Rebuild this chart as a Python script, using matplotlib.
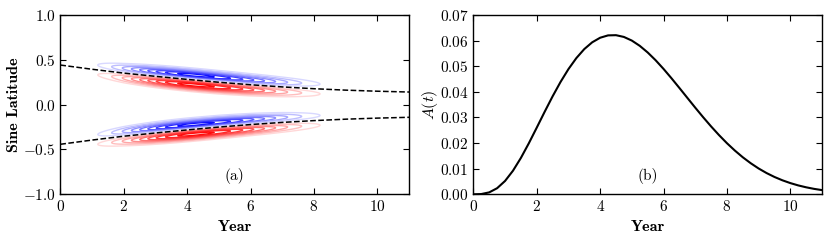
import matplotlib
matplotlib.use("Agg")
import matplotlib.pyplot as plt
import numpy as np

plt.rcParams['font.family'] = 'serif'
plt.rcParams['font.serif'] = ['cmr10']
plt.rcParams['mathtext.fontset'] = 'cm'
plt.rcParams['axes.formatter.use_mathtext'] = True
plt.rcParams['axes.unicode_minus'] = True

t_years = np.arange(0, 11.01, 0.25)
A_vals = [0.0000, 0.0001, 0.00075, 0.00238, 0.00520, 0.00920, 0.01420, 0.01991,
          0.02602, 0.03222, 0.03824, 0.04385, 0.04888, 0.05319, 0.05670, 0.05935,
          0.06113, 0.06205, 0.06213, 0.06144, 0.06002, 0.05797, 0.05538, 0.05235,
          0.04896, 0.04532, 0.04153, 0.03768, 0.03384, 0.03010, 0.02651, 0.02312,
          0.01996, 0.01708, 0.01446, 0.01214, 0.01008, 0.00830, 0.00677, 0.00547,
          0.00438, 0.00347, 0.00273, 0.00212, 0.00164]

# (a) latitude moyenne d'emergence (tirets), hemisphere nord
dash_years = [0, 1, 2, 3, 4, 5, 6, 7, 8, 9, 10, 11]
dash_north = [0.442, 0.395, 0.352, 0.316, 0.282, 0.250, 0.222, 0.198, 0.178, 0.162, 0.150, 0.141]

# parametres des ailes bipolaires
t_peak = 4.2       # centre temporel
sig_left = 1.55    # largeur avant le pic (an)
sig_right = 2.05   # largeur apres le pic (an)
offset = 0.05      # decalage bleu/rouge autour des tirets
sig_lat = 0.042    # largeur en sinus latitude

tt = np.linspace(0, 11, 441)
yy = np.linspace(-1, 1, 801)
T, Y = np.meshgrid(tt, yy)
c_n = np.interp(T, dash_years, dash_north)
sig_t = np.where(T < t_peak, sig_left, sig_right)
env = np.exp(-(T - t_peak) ** 2 / (2 * sig_t ** 2))
field = np.zeros_like(T)
for c in (c_n, -c_n):
    field += env * (np.exp(-(Y - (c - offset)) ** 2 / (2 * sig_lat ** 2))
                    - np.exp(-(Y - (c + offset)) ** 2 / (2 * sig_lat ** 2)))
field /= np.abs(field).max()

fig = plt.figure(figsize=(8.31, 2.40), dpi=100)
ax1 = fig.add_axes([0.0726, 0.1904, 0.4196, 0.747])
ax2 = fig.add_axes([0.5696, 0.1904, 0.4196, 0.747])

levels = np.concatenate([-np.arange(0.95, 0.06, -0.1), np.arange(0.15, 1.0, 0.1)])
ax1.contour(T, Y, field, levels=levels, cmap='bwr', vmin=-1, vmax=1, linewidths=1.0)
ax1.plot(dash_years, dash_north, 'k--', lw=1.1)
ax1.plot(dash_years, [-v for v in dash_north], 'k--', lw=1.1)
ax1.set_xlim(0, 11)
ax1.set_ylim(-1, 1)
ax1.set_xticks([0, 2, 4, 6, 8, 10])
ax1.set_yticks([-1.0, -0.5, 0.0, 0.5, 1.0])
ax1.set_xlabel('Year', fontname='cmb10', fontsize=11.5)
ax1.set_ylabel('Sine Latitude', fontname='cmb10', fontsize=11.5, labelpad=1)
ax1.text(0.5, 0.1, '(a)', transform=ax1.transAxes, ha='center', va='center', fontsize=11)

ax2.plot(t_years, A_vals, 'k-', lw=1.5)
ax2.set_xlim(0, 11)
ax2.set_ylim(0, 0.07)
ax2.set_xticks([0, 2, 4, 6, 8, 10])
ax2.set_yticks(np.arange(0, 0.071, 0.01))
ax2.yaxis.set_major_formatter(matplotlib.ticker.FormatStrFormatter('$%.2f$'))
ax2.set_xlabel('Year', fontname='cmb10', fontsize=11.5)
ax2.set_ylabel('$A(t)$', fontsize=11.5, labelpad=0)
ax2.text(0.5, 0.1, '(b)', transform=ax2.transAxes, ha='center', va='center', fontsize=11)

for ax in (ax1, ax2):
    ax.tick_params(direction='in', top=True, right=True, length=4, width=0.8, labelsize=11)
    for s in ax.spines.values():
        s.set_linewidth(1.0)

fig.savefig('out.png', dpi=100)
